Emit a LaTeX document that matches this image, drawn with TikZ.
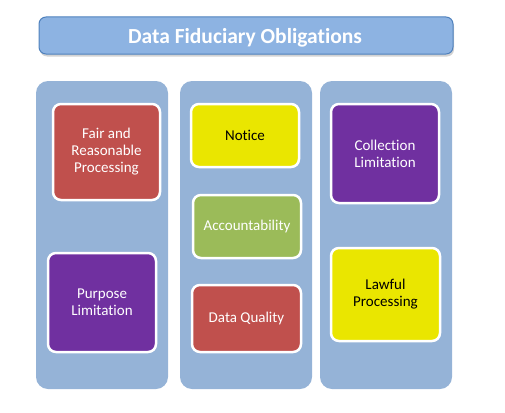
\documentclass[tikz,border=0pt]{standalone}
\usepackage{fontspec}
\setmainfont{Carlito}[Ligatures=NoCommon]
\usetikzlibrary{shadows}
\definecolor{colbg}{HTML}{95B3D7}
\definecolor{titlebg}{HTML}{8DB3E2}
\definecolor{titleedge}{HTML}{4F81BD}
\definecolor{cred}{HTML}{C0504D}
\definecolor{cpurple}{HTML}{7030A0}
\definecolor{cyellow}{HTML}{EAE600}
\definecolor{cgreen}{HTML}{9BBB59}
\tikzset{
  column/.style={fill=colbg, rounded corners=12pt, draw=none},
  item/.style={draw=white, line width=2.5pt, rounded corners=8pt, align=center,
    font=\fontsize{15}{17}\selectfont, inner sep=2pt},
  lighttext/.style={text=white},
  darktext/.style={text=black},
}
\begin{document}
\begin{tikzpicture}[x=1pt,y=-1pt]
\useasboundingbox (0,0) rectangle (505,412);
% title
\node[fill=titlebg, draw=titleedge, line width=1pt, rounded corners=7pt,
  drop shadow={shadow xshift=1pt, shadow yshift=-2.5pt, opacity=0.35},
  minimum width=414pt, minimum height=37pt] (title) at (246,35.5) {};
\node[text=white, font=\fontsize{21.5}{24}\selectfont\bfseries, inner sep=0pt] (titletext) at (245,37.5) {Data Fiduciary Obligations};
% columns
\fill[column] (36,81) rectangle (168,389);
\fill[column] (180,81) rectangle (312,389);
\fill[column] (320,81) rectangle (452,389);
% items
\node[item, lighttext, fill=cred, minimum width=107pt, minimum height=96pt] (fair) at (106.5,152) {Fair and\\Reasonable\\Processing};
\node[item, lighttext, fill=cpurple, minimum width=108pt, minimum height=99pt] (purpose) at (102,302.5) {Purpose\\Limitation};
\node[item, darktext, fill=cyellow, minimum width=108pt, minimum height=63pt] (notice) at (245,135.5) {Notice};
\node[item, lighttext, fill=cgreen, minimum width=108pt, minimum height=63pt] (account) at (247,226.5) {Accountability};
\node[item, lighttext, fill=cred, minimum width=109pt, minimum height=67pt] (quality) at (246.5,318.5) {Data Quality};
\node[item, lighttext, fill=cpurple, minimum width=108pt, minimum height=99pt] (collection) at (385,153.5) {Collection\\Limitation};
\node[item, darktext, fill=cyellow, minimum width=109pt, minimum height=93pt] (lawful) at (385.5,294.5) {Lawful\\Processing};
\end{tikzpicture}
\end{document}
